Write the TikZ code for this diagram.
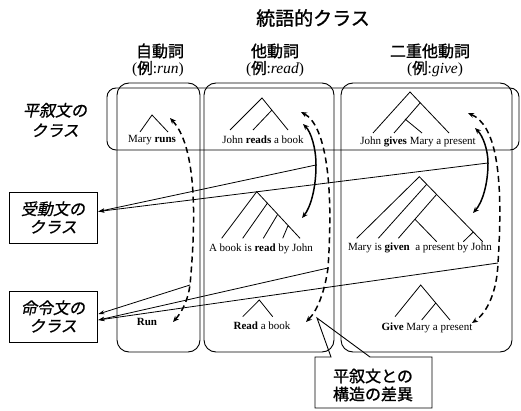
\documentclass[tikz,border=0pt]{standalone}
\usepackage{fontspec}
\setmainfont{Liberation Serif}
\newfontfamily\jp{Noto Sans CJK JP}[FakeBold=1.2]
\newfontfamily\jpsl{Noto Sans CJK JP}[FakeSlant=0.2,FakeBold=0.8]
\usetikzlibrary{arrows.meta}
\begin{document}
\begin{tikzpicture}[x=1pt,y=-1pt,
  colbox/.style={draw,line width=0.9pt,rounded corners=12pt},
  rowbox/.style={draw,line width=0.9pt,rounded corners=9pt},
  tree/.style={line width=0.8pt},
  sent/.style={font=\fontsize{11}{13}\selectfont,inner sep=0pt},
  hdr/.style={font=\jp\fontsize{16}{18}\selectfont,inner sep=0pt},
  hdrb/.style={font=\fontsize{15.5}{17}\selectfont,inner sep=0pt},
  lbox/.style={draw,line width=0.9pt,minimum width=88pt,minimum height=51pt,align=center,
    font=\jpsl\fontsize{16}{18}\selectfont,inner sep=0pt},
  lbl/.style={align=center,font=\jpsl\fontsize{16}{20}\selectfont,inner sep=0pt},
  dasharc/.style={line width=1.5pt,dash pattern=on 6pt off 4pt,{Stealth[length=6pt,width=5pt]}-{Stealth[length=6pt,width=5pt]}},
  solidarc/.style={line width=1.5pt,{Stealth[length=6pt,width=5pt]}-{Stealth[length=6pt,width=5pt]}},
  link/.style={line width=0.8pt,-{Stealth[length=6pt,width=4pt]}}
]
\useasboundingbox (0,0) rectangle (521,411);

% title and headers
\node[font=\jp\fontsize{19}{21}\selectfont,inner sep=0pt] (title) at (313,18) {統語的クラス};
\node[hdr] (h1) at (160,51) {自動詞};
\node[hdrb] (h1b) at (158,69) {({\jp 例}:\textit{run})};
\node[hdr] (h2) at (275,51) {他動詞};
\node[hdrb] (h2b) at (275,69) {({\jp 例}:\textit{read})};
\node[hdr] (h3) at (430,51) {二重他動詞};
\node[hdrb] (h3b) at (435,69) {({\jp 例}:\textit{give})};

% column boxes and row box
\draw[colbox] (117,83) rectangle (200,352);
\draw[colbox] (204,83) rectangle (334,352);
\draw[colbox] (341,83) rectangle (512,352);
\draw[rowbox] (107,88) rectangle (519,150);

% left labels
\node[lbl] (decl) at (55,120) {平叙文の\\クラス};
\node[lbox] (passive) at (53,217.5) {受動文の\\クラス};
\node[lbox] (imper) at (53,316.5) {命令文の\\クラス};

% sentences
\node[sent] (s1) at (152,140) {Mary \textbf{runs}};
\node[sent] (s2) at (263,140) {John \textbf{reads} a book};
\node[sent] (s3) at (418,142) {John \textbf{gives} Mary a present};
\node[sent] (p2) at (261,249) {A book is \textbf{read} by John};
\node[sent] (p3) at (420,248) {Mary is \textbf{given}\ \ a present by John};
\node[sent] (i1) at (147,322) {\textbf{Run}};
\node[sent] (i2) at (262,326) {\textbf{Read} a book};
\node[sent] (i3) at (427,328) {\textbf{Give} Mary a present};

% trees
\draw[tree] (140,132) -- (152,115) -- (168,132);
\draw[tree] (230,130) -- (262,98) -- (288,130) (272,110) -- (253,130);
\draw[tree] (373,133) -- (410,92) -- (449,133) (420,103) -- (394,133) (405,119) -- (422,133);
\draw[tree] (221.7,238.3) -- (256.7,191.7) -- (300,238.3)
  (267.3,203.3) -- (242.7,238.3) (277.3,215) -- (263.3,238.3) (288.3,225) -- (282.7,238.3);
\draw[tree] (356.7,238.3) -- (419.3,176.7) -- (482.7,241.7)
  (426.7,184.3) -- (378.3,238.3) (436.7,194.3) -- (398.3,238.3)
  (415,219.3) -- (436.7,241.7) (473.3,232) -- (463.3,241.7);
\draw[tree] (242.7,316.7) -- (259.3,300) -- (272.7,316.7);
\draw[tree] (395,316.7) -- (420.7,285) -- (450,320) (436,302.7) -- (421.7,320);

% arc key points
\coordinate (T1) at (170,118); \coordinate (P1) at (190,285); \coordinate (B1) at (173,322);
\coordinate (T2) at (301,112); \coordinate (P2) at (328,268); \coordinate (B2) at (306,322);
\coordinate (T3) at (468,113); \coordinate (P3) at (498,263); \coordinate (B3) at (472,323);
\coordinate (U2) at (303,124); \coordinate (Q2) at (316,165); \coordinate (D2) at (302,218);
\coordinate (U3) at (475,128); \coordinate (Q3) at (488,163); \coordinate (D3) at (473,213);

% dashed arcs
\draw[dasharc] (T1) .. controls (195,145) and (197,210) .. (P1) .. controls (188,300) and (182,312) .. (B1);
\draw[dasharc] (T2) .. controls (325,125) and (334,180) .. (P2) .. controls (325,290) and (318,310) .. (B2);
\draw[dasharc] (T3) .. controls (495,125) and (504,170) .. (P3) .. controls (497,290) and (488,312) .. (B3);
% solid arcs
\draw[solidarc] (U2) .. controls (311,132) and (316,148) .. (Q2) .. controls (316,190) and (310,208) .. (D2);
\draw[solidarc] (U3) .. controls (483,136) and (488,150) .. (Q3) .. controls (488,185) and (482,203) .. (D3);

% links to class boxes
\coordinate (pin) at ([yshift=6pt,xshift=1pt]passive.east);
\coordinate (iinA) at ([yshift=2.5pt,xshift=1pt]imper.east);
\coordinate (iinB) at ([yshift=-3.5pt,xshift=1pt]imper.east);
\draw[link] (Q2) -- (pin);
\draw[link] (Q3) -- (pin);
\draw[link] (P1) -- (iinA);
\draw[link] (P2) -- (iinB);
\draw[link] (P3) -- (iinB);

% callout
\coordinate (ctip) at (317,318);
\draw[line width=0.9pt] (315,357) -- (331,357) -- (ctip) -- (370,357) -- (432,357) -- (432,408) -- (315,408) -- cycle;
\node[align=center,font=\jp\fontsize{16}{18}\selectfont,inner sep=0pt] (diff) at (373,385) {平叙文との\\構造の差異};
\end{tikzpicture}
\end{document}
